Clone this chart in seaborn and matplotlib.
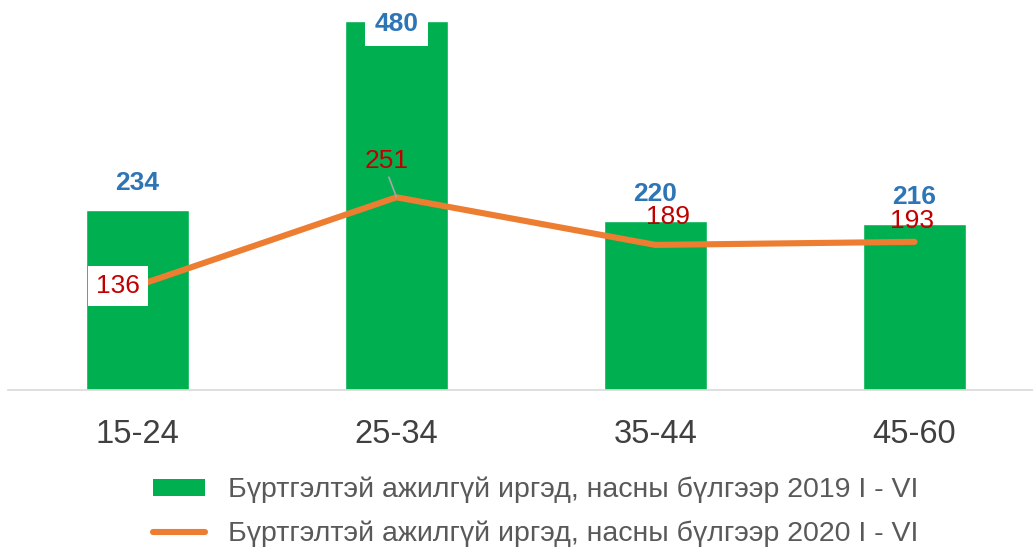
import matplotlib
matplotlib.use("Agg")
import matplotlib.pyplot as plt
import seaborn as sns
import pandas as pd
from matplotlib.patches import Patch
from matplotlib.lines import Line2D

# ── data ──────────────────────────────────────────────────────────────
age_groups = ["15-24", "25-34", "35-44", "45-60"]
values_2019 = [234, 480, 220, 216]
values_2020 = [136, 251, 189, 193]
label_2019 = "Бүртгэлтэй ажилгүй иргэд, насны бүлгээр 2019 I - VI"
label_2020 = "Бүртгэлтэй ажилгүй иргэд, насны бүлгээр 2020 I - VI"

GREEN = "#00B050"
ORANGE = "#ED7D31"
BLUE = "#2E75B6"
RED = "#C00000"

df = pd.DataFrame({"age": age_groups, "y2019": values_2019, "y2020": values_2020})

sns.set_style("white")
plt.rcParams["font.family"] = ["Liberation Sans", "DejaVu Sans"]

W, H = 1033, 549
fig = plt.figure(figsize=(W / 100, H / 100), dpi=100)
ax = fig.add_axes([8 / W, (H - 390) / H, 1025 / W, 390 / H])

sns.barplot(data=df, x="age", y="y2019", color=GREEN, width=0.4,
            saturation=1, ax=ax, zorder=2)
sns.lineplot(data=df, x="age", y="y2020", color=ORANGE, linewidth=4.4,
             sort=False, ax=ax, zorder=3, solid_capstyle="round")

ax.set_xlim(-0.5, -0.5 + 1025 / 259)
ax.set_ylim(0, 508)
ax.set_xlabel("")
ax.set_ylabel("")
ax.set_yticks([])
for s in ["top", "right", "left"]:
    ax.spines[s].set_visible(False)
ax.spines["bottom"].set_color("#D9D9D9")
ax.spines["bottom"].set_linewidth(1.2)
ax.tick_params(axis="x", length=0, pad=21, labelsize=23.5, labelcolor="#404040")

# bar labels (2019)
for i, v in enumerate(values_2019):
    if v == max(values_2019):
        ax.annotate(str(v), (i, v), xytext=(0, -2), textcoords="offset points",
                    ha="center", va="center", fontsize=19, fontweight="bold",
                    color=BLUE, zorder=5,
                    bbox=dict(boxstyle="square,pad=0.35", fc="white", ec="none"))
    else:
        ax.annotate(str(v), (i, v), xytext=(0, 19.5), textcoords="offset points",
                    ha="center", va="center", fontsize=19, fontweight="bold",
                    color=BLUE, zorder=5)

# line labels (2020)
line_offsets = [(-14, 0), (-7, 26), (9, 20), (-2, 15)]
for i, (v, off) in enumerate(zip(values_2020, line_offsets)):
    box = None
    if i == 0:
        box = dict(boxstyle="square,pad=0.3", fc="white", ec="none")
    ax.annotate(str(v), (i, v), xytext=off, textcoords="offset points",
                ha="center", va="center", fontsize=19, color=RED, zorder=6,
                bbox=box)

# leader line for the 25-34 label
ax.annotate("", (1, values_2020[1]), xytext=(-5.5, 14.5),
            textcoords="offset points",
            arrowprops=dict(arrowstyle="-", color="#A6A6A6", lw=1.2,
                            shrinkA=0, shrinkB=0), zorder=4)

handles = [Patch(facecolor=GREEN, edgecolor="none", label=label_2019),
           Line2D([0], [0], color=ORANGE, lw=4.4, solid_capstyle="round",
                  label=label_2020)]
fig.legend(handles=handles, loc="center left",
           bbox_to_anchor=(153 / W, 1 - 512 / H), frameon=False,
           fontsize=20.5, labelcolor="#595959", handlelength=1.83,
           handleheight=0.55, handletextpad=0.8, labelspacing=0.6,
           borderpad=0, borderaxespad=0)

fig.savefig("out.png", dpi=100)
